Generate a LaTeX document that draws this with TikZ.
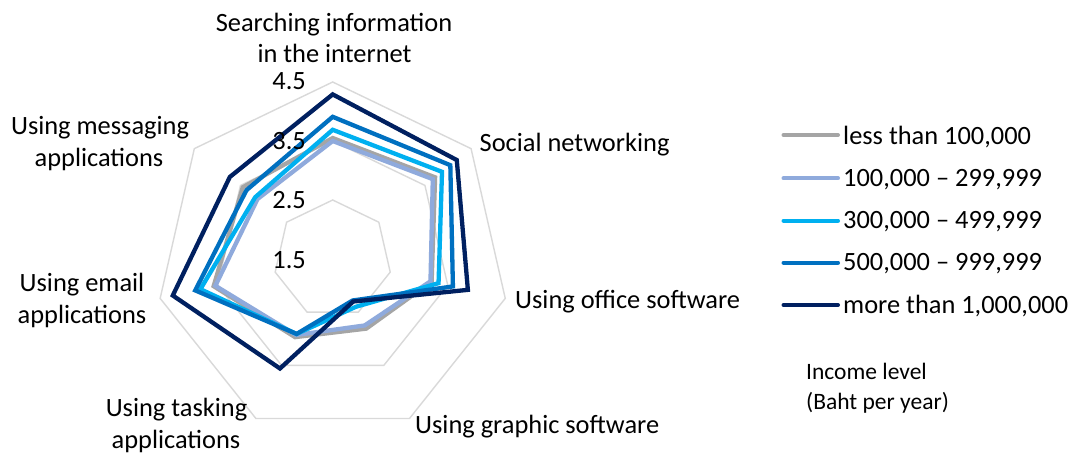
\documentclass[tikz,border=0pt]{standalone}
\usepackage{fontspec}
\setmainfont{Carlito}
\definecolor{gridc}{HTML}{D9D9D9}
\definecolor{sgray}{HTML}{A5A5A5}
\definecolor{slav}{HTML}{8FAADC}
\definecolor{scyan}{HTML}{00B0F0}
\definecolor{sblue}{HTML}{0070C0}
\definecolor{snavy}{HTML}{002060}
\newcommand\radarseries[3]{%
  \foreach \v [count=\k from 0] in {#3}{%
    \coordinate (#1-\k) at ({-90+\k*360/7}:{(\v-1.5)*59});}
  \draw[series,#2] (#1-0)--(#1-1)--(#1-2)--(#1-3)--(#1-4)--(#1-5)--(#1-6)--cycle;}
\begin{document}
\begin{tikzpicture}[x=1pt,y=-1pt,
  gridline/.style={draw=gridc,line width=1.4pt},
  series/.style={line width=4.3pt,line join=miter},
  legline/.style={line width=4pt,line cap=round},
  lab/.style={font=\fontsize{26.4}{31}\selectfont,inner sep=0pt,text=black},
  small/.style={font=\fontsize{23.5}{28}\selectfont,inner sep=0pt,text=black}]
\useasboundingbox[fill=white] (0,0) rectangle (1076,454);
\coordinate (C) at (332.7,259);
\begin{scope}[shift={(C)}]
  \foreach \r [count=\i] in {59,118,177}{
    \draw[gridline] (-90:\r) \foreach \k in {1,...,6}{ -- ({-90+\k*360/7}:\r)} -- cycle;}
  \radarseries{a}{sgray}{3.55,3.72,3.22,2.81,2.97,3.57,3.45}
  \radarseries{b}{slav}{3.50,3.67,3.20,2.75,2.93,3.54,3.13}
  \radarseries{c}{scyan}{3.69,3.87,3.34,2.40,2.91,3.80,3.18}
  \radarseries{d}{sblue}{3.91,4.05,3.59,2.28,2.91,3.89,3.37}
  \radarseries{e}{snavy}{4.29,4.19,3.85,2.30,3.56,4.28,3.73}
\end{scope}
% tick labels
\node[lab,anchor=base east] (t45) at (306,90) {4.5};
\node[lab,anchor=base east] (t35) at (306,150) {3.5};
\node[lab,anchor=base east] (t25) at (306,209) {2.5};
\node[lab,anchor=base east] (t15) at (306,268.3) {1.5};
% axis labels
\node[lab,anchor=base] (l1a) at (334,31.7) {Searching information};
\node[lab,anchor=base] (l1b) at (334.5,63) {in the internet};
\node[lab,anchor=base west] (l2) at (479.5,151.7) {Social networking};
\node[lab,anchor=base west] (l3) at (515,308.3) {Using office software};
\node[lab,anchor=base west] (l4) at (415,433.3) {Using graphic software};
\node[lab,anchor=base] (l5a) at (176.5,416.7) {Using tasking};
\node[lab,anchor=base] (l5b) at (176,448) {applications};
\node[lab,anchor=base] (l6a) at (82,291.7) {Using email};
\node[lab,anchor=base] (l6b) at (82,323.3) {applications};
\node[lab,anchor=base] (l7a) at (100,135) {Using messaging};
\node[lab,anchor=base] (l7b) at (99,166.5) {applications};
% legend
\coordinate (g1s) at (783.5,135); \coordinate (g1e) at (838,135);
\coordinate (g2s) at (783.5,178.3); \coordinate (g2e) at (838,178.3);
\coordinate (g3s) at (783.5,220.7); \coordinate (g3e) at (838,220.7);
\coordinate (g4s) at (783.5,262.7); \coordinate (g4e) at (838,262.7);
\coordinate (g5s) at (783.5,305); \coordinate (g5e) at (838,305);
\draw[legline,sgray] (g1s) -- (g1e);
\draw[legline,slav] (g2s) -- (g2e);
\draw[legline,scyan] (g3s) -- (g3e);
\draw[legline,sblue] (g4s) -- (g4e);
\draw[legline,snavy] (g5s) -- (g5e);
\node[lab,anchor=base west] (k1) at (843,145) {less than 100,000};
\node[lab,anchor=base west] (k2) at (843,186.7) {100,000 – 299,999};
\node[lab,anchor=base west] (k3) at (843,229) {300,000 – 499,999};
\node[lab,anchor=base west] (k4) at (843,271) {500,000 – 999,999};
\node[lab,anchor=base west] (k5) at (843,313.3) {more than 1,000,000};
\node[small,anchor=base west] (i1) at (806,379.3) {Income level};
\node[small,anchor=base west] (i2) at (806,409.5) {(Baht per year)};
\end{tikzpicture}
\end{document}
